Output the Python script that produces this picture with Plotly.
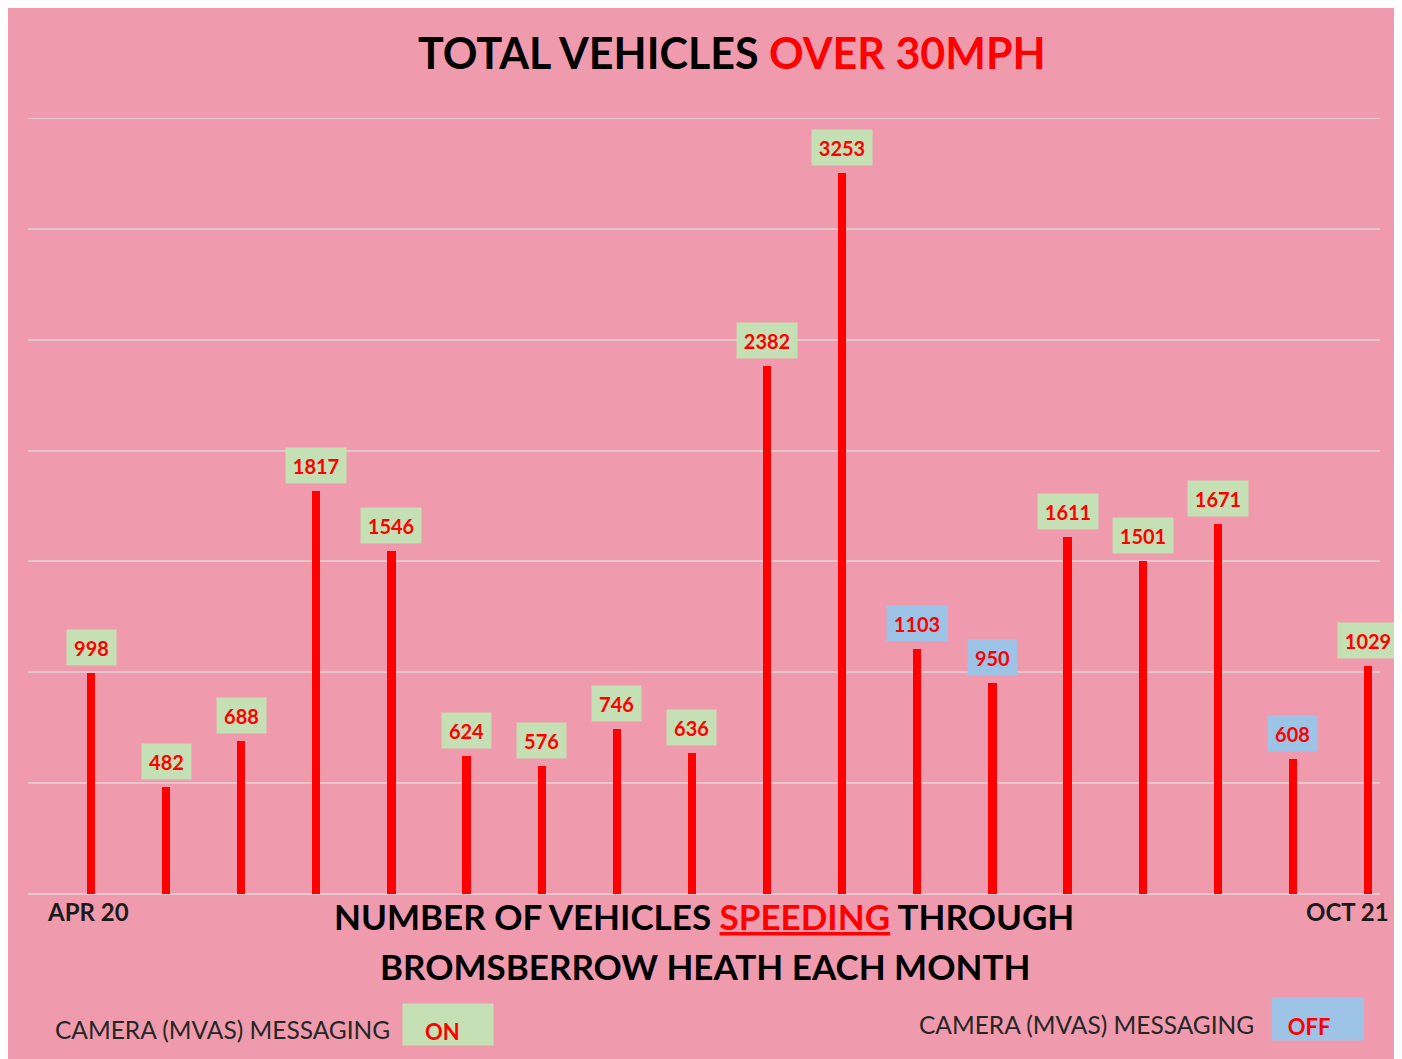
import plotly.graph_objects as go

# ---- data ----
months_idx = list(range(18))
values = [998, 482, 688, 1817, 1546, 624, 576, 746, 636, 2382, 3253, 1103, 950, 1611, 1501, 1671, 608, 1029]
camera_status = ["ON"] * 11 + ["OFF", "OFF"] + ["ON"] * 3 + ["OFF", "ON"]
first_label = "APR 20"
last_label = "OCT 21"
y_max = 3500
y_step = 500

# ---- style ----
PINK = "#F09BAD"
RED = "#FF0000"
GREEN_BOX = "#C5E0B4"
BLUE_BOX = "#9DC3E6"
GRID = "#E4C6CD"
FONT = "Lato"

W, H = 1394, 1051
L, T = 20, 110
PW, PH = 1352, 776


def px(X):  # page x -> paper
    return (X - 28) / PW


def py(Y):  # page y -> paper
    return (894 - Y) / PH


fig = go.Figure()
fig.add_trace(go.Bar(x=months_idx, y=values, width=0.11,
                     marker=dict(color=RED, line=dict(width=0)),
                     hoverinfo="x+y"))

ann = []
for i, v in enumerate(values):
    ann.append(dict(x=i, y=v, xref="x", yref="y", xanchor="center", yanchor="bottom",
                    yshift=7, text=f"<b>{v}</b>", showarrow=False,
                    bgcolor=GREEN_BOX if camera_status[i] == "ON" else BLUE_BOX,
                    width=49 if v < 1000 else 60, height=35, borderpad=0,
                    font=dict(family=FONT, size=20, color=RED)))

# title
ann.append(dict(x=px(732), y=py(52), xref="paper", yref="paper", showarrow=False,
                xanchor="center", yanchor="middle",
                text="<b>TOTAL VEHICLES <span style='color:#FF0000'>OVER 30MPH</span></b>",
                font=dict(family=FONT, size=43, color="#000000")))
# axis end labels
ann.append(dict(x=px(88), y=py(912), xref="paper", yref="paper", showarrow=False,
                xanchor="center", yanchor="middle", text=f"<b>{first_label}</b>",
                font=dict(family=FONT, size=24, color="#1a1a1a")))
ann.append(dict(x=px(1347), y=py(912), xref="paper", yref="paper", showarrow=False,
                xanchor="center", yanchor="middle", text=f"<b>{last_label}</b>",
                font=dict(family=FONT, size=24, color="#1a1a1a")))
# subtitle lines
ann.append(dict(x=px(704), y=py(916), xref="paper", yref="paper", showarrow=False,
                xanchor="center", yanchor="middle",
                text="<b>NUMBER OF VEHICLES <span style='color:#FF0000'><u>SPEEDING</u></span> THROUGH</b>",
                font=dict(family=FONT, size=35, color="#000000")))
ann.append(dict(x=px(705), y=py(966), xref="paper", yref="paper", showarrow=False,
                xanchor="center", yanchor="middle",
                text="<b>BROMSBERROW HEATH EACH MONTH</b>",
                font=dict(family=FONT, size=35, color="#000000")))
# legend-like notes
ann.append(dict(x=px(53), y=py(1029), xref="paper", yref="paper", showarrow=False,
                xanchor="left", yanchor="middle", text="CAMERA (MVAS) MESSAGING",
                font=dict(family=FONT, size=24.5, color="#262626")))
ann.append(dict(x=px(448), y=py(1024.5), xref="paper", yref="paper", showarrow=False,
                xanchor="center", yanchor="middle", text="<b>ON</b>  ",
                bgcolor=GREEN_BOX, width=90, height=41, borderpad=0, valign="bottom",
                font=dict(family=FONT, size=22, color=RED)))
ann.append(dict(x=px(917), y=py(1024), xref="paper", yref="paper", showarrow=False,
                xanchor="left", yanchor="middle", text="CAMERA (MVAS) MESSAGING",
                font=dict(family=FONT, size=24.5, color="#262626")))
ann.append(dict(x=px(1317), y=py(1018.5), xref="paper", yref="paper", showarrow=False,
                xanchor="center", yanchor="middle", text="<b>OFF</b>   ",
                bgcolor=BLUE_BOX, width=91, height=42, borderpad=0, valign="bottom",
                font=dict(family=FONT, size=22, color=RED)))

fig.update_layout(
    width=W, height=H,
    margin=dict(l=L, r=W - L - PW, t=T, b=H - T - PH),
    paper_bgcolor=PINK, plot_bgcolor=PINK,
    showlegend=False, bargap=0,
    annotations=ann,
    shapes=[dict(type="line", xref="paper", yref="y", x0=0, x1=1, y0=y_max, y1=y_max,
                 line=dict(color=GRID, width=2), layer="below")],
    xaxis=dict(range=[-63 / 75.12, (PW - 63) / 75.12], showgrid=False, zeroline=False,
               showticklabels=False, ticks="", fixedrange=True),
    yaxis=dict(range=[0, y_max], dtick=y_step, showgrid=True, gridcolor=GRID, gridwidth=2,
               zeroline=True, zerolinecolor=GRID, zerolinewidth=2,
               showticklabels=False, ticks="", fixedrange=True),
)

fig.write_html("out.html")
